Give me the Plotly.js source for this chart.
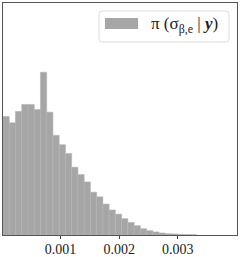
<!DOCTYPE html>
<html>
<head>
<meta charset="utf-8">
<script src="https://cdn.plot.ly/plotly-3.0.1.min.js"></script>
<style>html,body{margin:0;padding:0;background:#fff;}#chart{width:241px;height:257px;}</style>
</head>
<body>
<div id="chart"></div>
<script>
// Histogram (density) of the posterior sample
const binStart = 0.000017;   // left edge of first bin
const binWidth = 0.0001065;  // bin width
const density = [659, 624, 687, 726, 726, 698, 905, 683, 554, 502,
                 453, 377, 336, 295, 238, 212, 172, 139, 116, 91,
                 70, 52, 35, 24, 17, 11, 7, 5.5, 3.3, 2.2, 1.7];
const tickVals = [0.001, 0.002, 0.003];
const tickText = ["0.001", "0.002", "0.003"];
const seriesLabel = "π (σ<sub>β,e</sub> | <b><i>y</i></b>)";

const barColor = "#a6a6a6";

const trace = {
  type: "bar",
  y: density,
  x0: binStart + binWidth / 2,
  dx: binWidth,
  width: binWidth,
  marker: {color: barColor, line: {color: "#b4b4b4", width: 0.6}},
  name: seriesLabel,
  showlegend: false,
  hoverinfo: "skip"
};

const serif = "'Liberation Serif', 'DejaVu Serif', serif";

const layout = {
  width: 241, height: 257,
  margin: {l: 3, r: 4, t: 3, b: 22, pad: 0},
  paper_bgcolor: "#fff", plot_bgcolor: "#fff",
  bargap: 0,
  font: {family: serif, size: 14, color: "#222"},
  xaxis: {
    range: [0.000017, 0.004009],
    tickvals: tickVals, ticktext: tickText,
    ticks: "outside", ticklen: 3, tickwidth: 1, tickcolor: "#444",
    ticklabelstandoff: -2,
    showgrid: false, zeroline: false,
    showline: true, mirror: true, linecolor: "#555", linewidth: 1,
    tickfont: {family: serif, size: 14, color: "#222"}
  },
  yaxis: {
    range: [0, 1290],
    showticklabels: false, ticks: "",
    showgrid: false, zeroline: false,
    showline: true, mirror: true, linecolor: "#555", linewidth: 1
  },
  shapes: [
    {type: "path", xref: "paper", yref: "paper", xsizemode: "pixel", ysizemode: "pixel",
     xanchor: 0, yanchor: 1,
     path: "M 99,-8 H 223 Q 226,-8 226,-11 V -36 Q 226,-39 223,-39 H 99 Q 96,-39 96,-36 V -11 Q 96,-8 99,-8 Z",
     fillcolor: "rgba(255,255,255,0.85)", line: {color: "#dcdcdc", width: 1}},
    {type: "rect", xref: "paper", yref: "paper", xsizemode: "pixel", ysizemode: "pixel",
     xanchor: 0, yanchor: 1, x0: 102, x1: 135, y0: -15, y1: -26,
     fillcolor: barColor, line: {width: 0}}
  ],
  annotations: [
    {xref: "paper", yref: "paper", x: (149 - 3) / 234, y: 1 - (25.5 - 3) / 232,
     xanchor: "left", yanchor: "middle", showarrow: false,
     text: seriesLabel, font: {family: serif, size: 17, color: "#222"}}
  ]
};

Plotly.newPlot("chart", [trace], layout, {staticPlot: true, displayModeBar: false});
</script>
</body>
</html>
